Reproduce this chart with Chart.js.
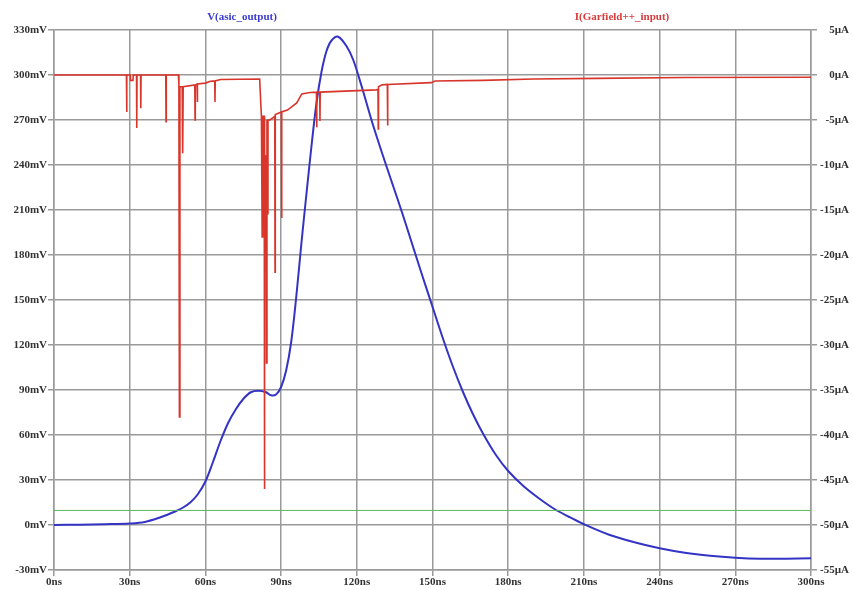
<!DOCTYPE html>
<html>
<head>
<meta charset="utf-8">
<script src="https://cdn.jsdelivr.net/npm/chart.js@4.4.1/dist/chart.umd.min.js"></script>
<style>
  html, body { margin: 0; padding: 0; background: #fff; }
  #wrap { width: 853px; height: 590px; }
</style>
</head>
<body>
<div id="wrap"><canvas id="myChart"></canvas></div>
<script>
// V(asic_output) in mV vs time in ns
const timeV = [0, 10, 20, 30, 36, 42, 48, 51, 54, 57, 60, 63, 66, 69, 72, 75, 78, 81, 84, 86, 88, 90, 92, 94, 96, 98, 100,
  102, 104, 106, 108, 110, 112.6, 116, 118.6, 122, 126, 130, 134, 138, 142, 146, 150, 154, 158, 162, 166, 170, 175,
  180, 186, 192, 198, 204, 210, 220, 230, 240, 250, 260, 270, 280, 290, 300];
const vOut = [0, 0.2, 0.5, 1, 2, 5, 9, 11.5, 15, 20.5, 29, 42, 56, 68, 77, 84, 88.5, 89.5, 88.5, 86.5, 87, 92, 103, 122, 152, 187, 220,
  252, 281, 302, 316, 323, 325.5, 319, 310, 292, 269, 248, 228, 208, 187, 166, 145.5, 125, 106, 89, 74, 61, 47,
  36, 26, 18, 11, 5.5, 0.5, -6.5, -11.5, -15.5, -18.5, -20.5, -21.8, -22.5, -22.5, -22.2];

// I(Garfield++_input) in uA vs time in ns
const timeI = [0, 28.7, 28.8, 28.9, 30.2, 30.3, 31.3, 31.4, 32.7, 32.8, 32.9, 34.3, 34.4, 34.5, 44.3, 44.4, 44.5,
  49.3, 49.5, 49.7, 49.9, 50.8, 51.0, 51.2, 55.8, 55.9, 56.0, 56.7, 56.8, 56.9, 60, 62, 63.7, 63.8, 63.9, 66, 81.5,
  82.2, 82.5, 82.7, 83.3, 83.4, 83.5, 83.9, 84.0, 84.2, 84.4, 84.7, 84.8, 85.6, 87.5, 87.6, 87.7, 90.1, 90.2, 90.3,
  92.5, 96.2, 98.2, 101.5, 104, 104.1, 104.2, 105.3, 105.4, 105.5, 127.8, 128.4, 128.5, 128.6, 130, 132.1, 132.2, 132.3,
  149.5, 151, 170, 190, 215, 250, 300];
const iIn = [0, 0, -4.1, 0, 0, -0.6, -0.6, 0, 0, -5.9, 0, 0, -3.7, 0, 0, -5.2, 0,
  0, -1, -38, -1.3, -1.3, -8.7, -1.3, -1.1, -5, -1.1, -1.0, -3, -1.0, -0.9, -0.7, -0.65, -3, -0.65, -0.5, -0.45,
  -4.6, -18, -4.6, -4.6, -46, -8.9, -17.5, -8.9, -32, -5, -15.4, -5, -5, -4.6, -21.9, -4.4, -4.1, -15.9, -4.1,
  -3.9, -3.1, -2.1, -1.95, -1.9, -5.8, -1.9, -1.9, -5.1, -1.9, -1.65, -1.6, -6, -1.3, -1.1, -1.05, -5.6, -1.05,
  -0.85, -0.67, -0.6, -0.45, -0.37, -0.27, -0.25];

// threshold line (mV)
const timeThr = [0, 300];
const vThr = [9.7, 9.7];

// axes
const xTicks = [0, 30, 60, 90, 120, 150, 180, 210, 240, 270, 300];
const mvTicks = [-30, 0, 30, 60, 90, 120, 150, 180, 210, 240, 270, 300, 330];
const uaTicks = [-55, -50, -45, -40, -35, -30, -25, -20, -15, -10, -5, 0, 5];

const pts = (xs, ys) => xs.map((x, i) => ({ x: x, y: ys[i] }));

const tickFont = { family: 'Liberation Serif', size: 11, weight: 'bold' };
const gridColor = '#9a9a9a';

const titles = {
  id: 'titles',
  afterDraw(chart) {
    const c = chart.ctx;
    c.save();
    c.font = 'bold 11px "Liberation Serif"';
    c.textAlign = 'center';
    c.textBaseline = 'middle';
    c.fillStyle = '#3a3ad0';
    c.fillText('V(asic_output)', 242, 17);
    c.fillStyle = '#d83c3c';
    c.fillText('I(Garfield++_input)', 622, 17);
    c.restore();
  }
};

new Chart(document.getElementById('myChart'), {
  type: 'scatter',
  data: {
    datasets: [
      {
        label: 'threshold',
        data: pts(timeThr, vThr),
        yAxisID: 'y',
        showLine: true,
        borderColor: '#5cb85c',
        borderWidth: 1,
        pointRadius: 0
      },
      {
        label: 'I(Garfield++_input)',
        data: pts(timeI, iIn),
        yAxisID: 'y1',
        showLine: true,
        borderColor: '#d8352b',
        borderWidth: 1.6,
        pointRadius: 0,
        tension: 0
      },
      {
        label: 'V(asic_output)',
        data: pts(timeV, vOut),
        yAxisID: 'y',
        showLine: true,
        borderColor: '#3434c4',
        borderWidth: 2,
        pointRadius: 0,
        tension: 0.35
      }
    ]
  },
  options: {
    responsive: true,
    maintainAspectRatio: false,
    animation: false,
    layout: { padding: { top: 30, right: 4, left: 0, bottom: 0 } },
    plugins: { legend: { display: false }, tooltip: { enabled: false } },
    scales: {
      x: {
        type: 'linear',
        min: 0, max: 300,
        afterBuildTicks: s => { s.ticks = xTicks.map(v => ({ value: v })); },
        afterFit: s => { s.height = 20; },
        ticks: { font: tickFont, color: '#333', padding: 0, maxRotation: 0, callback: v => v + 'ns' },
        grid: { color: gridColor, lineWidth: 1.5, tickLength: 6 },
        border: { color: gridColor, width: 1.5 }
      },
      y: {
        position: 'left',
        min: -30, max: 330,
        afterBuildTicks: s => { s.ticks = mvTicks.map(v => ({ value: v })); },
        afterFit: s => { s.width = 54; },
        ticks: { font: tickFont, color: '#333', padding: 1, callback: v => v + 'mV' },
        grid: { color: gridColor, lineWidth: 1.5, tickLength: 6 },
        border: { color: gridColor, width: 1.5 }
      },
      y1: {
        position: 'right',
        min: -55, max: 5,
        afterBuildTicks: s => { s.ticks = uaTicks.map(v => ({ value: v })); },
        afterFit: s => { s.width = 38; },
        ticks: { font: tickFont, color: '#333', padding: 1, crossAlign: 'far', callback: v => v + 'µA' },
        grid: { drawOnChartArea: false, color: gridColor, lineWidth: 1.5, tickLength: 6 },
        border: { color: gridColor, width: 1.5 }
      }
    }
  },
  plugins: [titles]
});
</script>
</body>
</html>
